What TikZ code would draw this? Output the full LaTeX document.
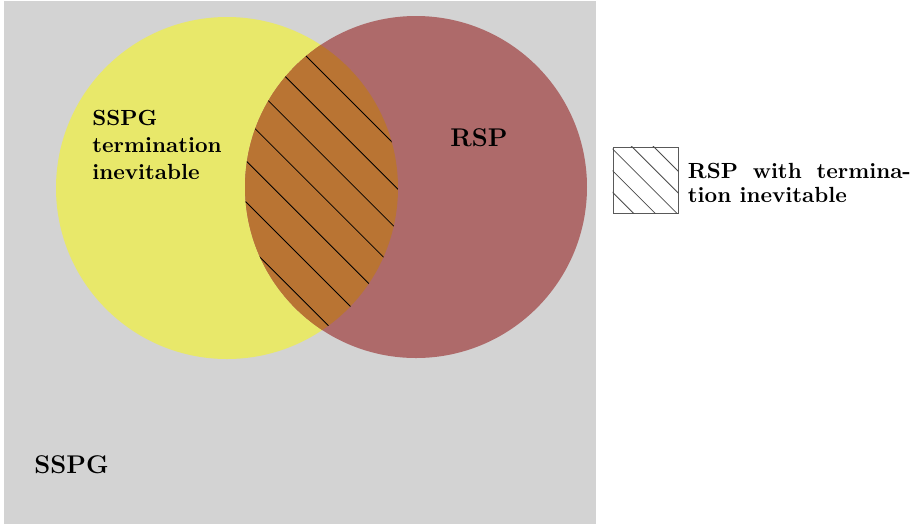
\documentclass[tikz,border=0pt]{standalone}
\usepackage{tikz}
\usetikzlibrary{positioning}
\definecolor{bggray}{HTML}{D3D3D3}
\definecolor{sspgyellow}{HTML}{E8E86A}
\definecolor{rspred}{HTML}{AE6A6A}
\definecolor{lensbrown}{HTML}{B97433}

\begin{document}
\begin{tikzpicture}[x=0.5pt, y=-0.5pt,
                setlabel/.style={font=\fontsize{10.95}{13.5}\selectfont\bfseries, inner sep=0pt},
                biglabel/.style={font=\fontsize{12.8}{15}\selectfont\bfseries, inner sep=0pt},
                hatch/.style={line width=0.4pt, black},
                legendbox/.style={draw=black!65, line width=0.5pt, fill=white, rectangle, minimum width=32.5pt, minimum height=33pt, inner sep=0pt},
                legendtext/.style={font=\fontsize{10.95}{12}\selectfont\bfseries, text width=111.5pt, align=justify, inner sep=0pt}
            ]
            \useasboundingbox (0,0) rectangle (912,527);

            % Mengen
            \fill[bggray] (4,1) rectangle (596,524);
            \fill[sspgyellow] (227,188) circle[radius=171];
            \fill[rspred] (416,187) circle[radius=171];
            \begin{scope}
                \clip (227,188) circle[radius=171];
                \clip (416,187) circle[radius=171];
                \fill[lensbrown] (200,0) rectangle (450,400);
                \foreach \k in {0,...,6}
                    \draw[hatch] (200,{-50+41.2*\k}) -- (450,{200+41.2*\k});
            \end{scope}

            % Beschriftungen
            \node[setlabel, anchor=north west, align=left] (sspgterm) at (92,110) {SSPG\\termination\\inevitable};
            \node[biglabel, anchor=base west] (rsp) at (450,146) {RSP};
            \node[biglabel, anchor=base west] (sspg) at (34,473) {SSPG};

            % Legende
            \node[legendbox] (lgbox) at (645.5,180) {};
            \begin{scope}
                \clip (lgbox.south west) rectangle (lgbox.north east);
                \foreach \k in {0,...,4}
                    \draw[hatch, black!70] (600,{93+21.7*\k}) -- (700,{193+21.7*\k});
            \end{scope}
            \node[legendtext, right=4.5pt of lgbox, yshift=-1.5pt] (lgtext) {RSP with termina-\linebreak tion inevitable};

        \end{tikzpicture}
\end{document}
